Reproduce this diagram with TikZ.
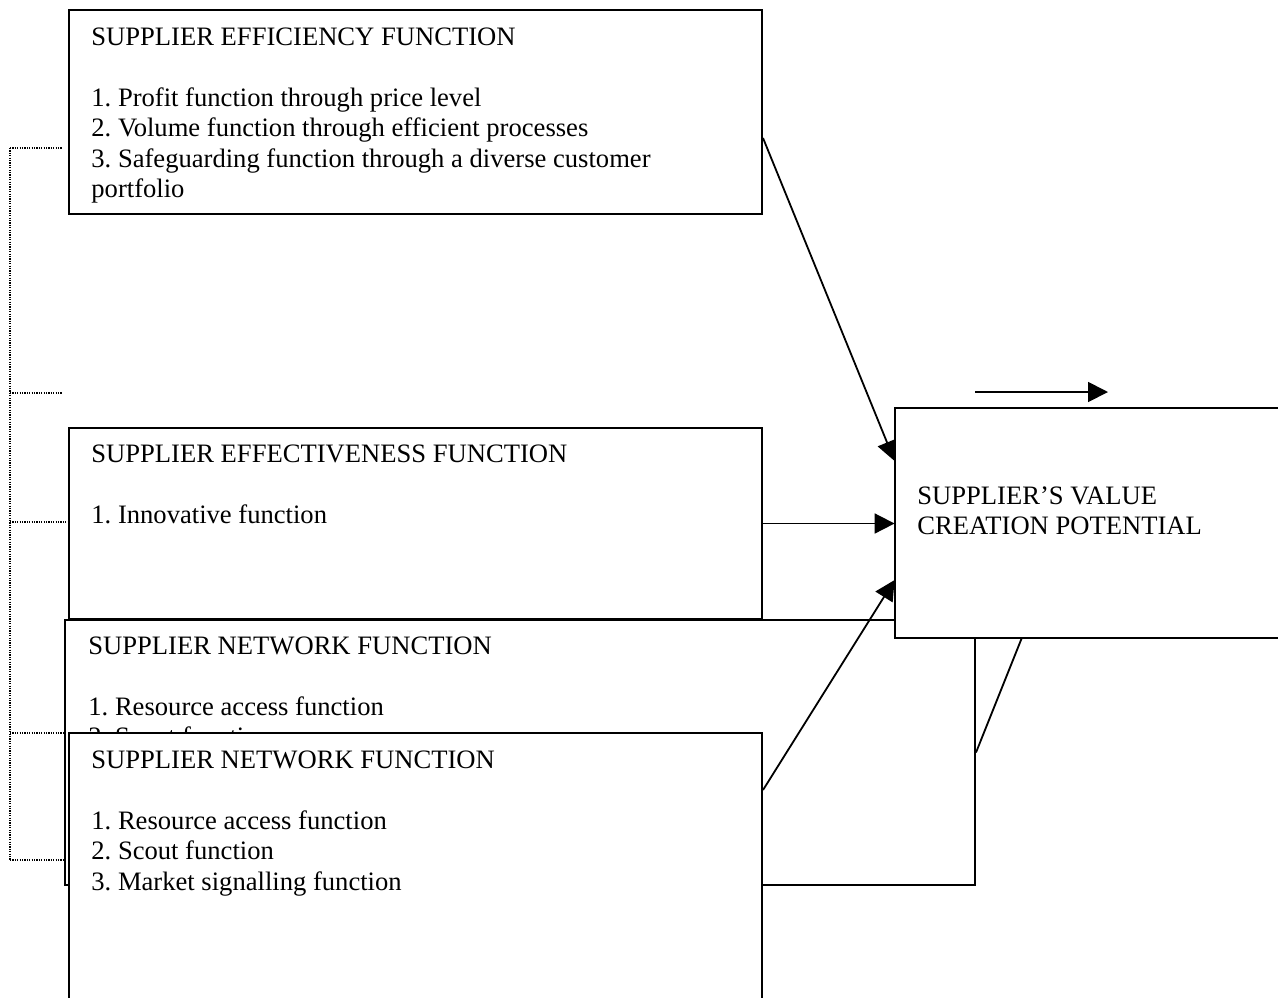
\documentclass[tikz,border=0pt]{standalone}
\usepackage{fontspec}
\setmainfont{Liberation Serif}
\usetikzlibrary{fit,arrows.meta}
\newcommand{\fl}{\rule{0pt}{11pt}}
\frenchspacing
\begin{document}
\begin{tikzpicture}[x=0.5pt,y=-0.5pt,
  box/.style={draw, line width=1pt, fill=white, inner sep=0pt},
  txt/.style={anchor=north west, inner sep=0pt, align=left, font=\fontsize{13.3pt}{15.2pt}\selectfont\frenchspacing},
  conn/.style={line width=0.9pt, -{Triangle[length=10pt,width=10pt]}},
  plainline/.style={line width=0.9pt},
  dots/.style={line width=0.6pt, dash pattern=on 0.6pt off 0.6pt}]
\useasboundingbox (0,0) rectangle (1278,997);
\clip (0,0) rectangle (1278,997);
\fill[white] (0,0) rectangle (1278,997);

% Efficiency box
\node[box, fit={(69,10) (762,214)}] (eff) {};
\node[txt] (efft) at (91,23) {\fl SUPPLIER EFFICIENCY FUNCTION\\[15.2pt]
1. Profit function through price level\\
2. Volume function through efficient processes\\
3. Safeguarding function through a diverse customer\\
portfolio};

% Effectiveness box
\node[box, fit={(69,428) (762,619)}] (effv) {};
\node[txt] (effvt) at (91,440) {\fl SUPPLIER EFFECTIVENESS FUNCTION\\[15.2pt]
1. Innovative function};

% dotted bracket
\coordinate (d1) at (10,148);
\coordinate (d2) at (10,393);
\coordinate (d3) at (10,522);
\coordinate (d4) at (10,733);
\coordinate (d5) at (10,860);
\coordinate (e1) at (62,148);
\coordinate (e2) at (62,393);
\draw[dots] (d1) -- (d5);
\draw[dots] (d1) -- (e1);
\draw[dots] (d2) -- (e2);
\draw[dots] (d3) -- (d3 -| effv.west);

% Value box coordinates for arrows (box drawn later)
\node[fit={(895,408) (1290,638)}, inner sep=0pt] (val) {};

\draw[conn] ([yshift=-13pt]eff.east) -- ([yshift=31pt]val.west);
\draw[conn] (effv.east) -- (effv.east -| val.west);

% Network box (back)
\node[box, fit={(65,620) (975,885)}] (net3) {};
\node[txt] (net3t) at (88,632) {\fl SUPPLIER NETWORK FUNCTION\\[15.2pt]
1. Resource access function\\
2. Scout function};
\draw[dots] (d4) -- (d4 -| net3.west);
\draw[dots] (d5) -- (d5 -| net3.west);

% Network box (front)
\node[box, fit={(69,733) (762,1010)}] (net4) {};
\node[txt] (net4t) at (91,746) {\fl SUPPLIER NETWORK FUNCTION\\[15.2pt]
1. Resource access function\\
2. Scout function\\
3. Market signalling function};

\draw[conn] ([yshift=40.75pt]net4.east) -- ([yshift=-28.5pt]val.west);
\draw[plainline] (net3.east) -- ([xshift=63.5pt]val.south west);

% Value box
\node[box, fit={(895,408) (1290,638)}] (valbox) {};
\node[txt] (valt) at (917,482) {\fl SUPPLIER’S VALUE\\
CREATION POTENTIAL};

% free arrow
\coordinate (a1) at (975,392);
\coordinate (a2) at (1108,392);
\draw[conn] (a1) -- (a2);
\end{tikzpicture}
\end{document}
